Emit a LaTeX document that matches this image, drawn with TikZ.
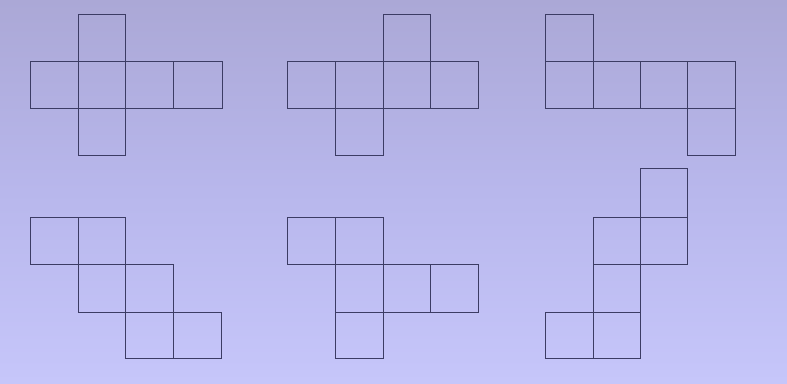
\documentclass[tikz,border=0pt]{standalone}
\begin{document}
\definecolor{bgtop}{RGB}{171,168,214}
\definecolor{bgmid}{RGB}{184,183,236}
\definecolor{bgbot}{RGB}{198,198,250}
\definecolor{edge}{RGB}{60,60,100}
\begin{tikzpicture}[x=1pt,y=-1pt,
  face/.style={draw=edge,line width=0.95pt,line join=miter}]
\useasboundingbox (0,0) rectangle (787,383);
\shade[top color=bgtop,bottom color=bgbot,middle color=bgmid] (0,0) rectangle (787,383);
\newcommand{\sqr}[4]{\draw[face] (#1,#2) rectangle (#3,#4);}
% figure 1
\sqr{78}{14}{125}{61}
\sqr{30}{61}{78}{108}\sqr{78}{61}{125}{108}\sqr{125}{61}{173}{108}\sqr{173}{61}{222}{108}
\sqr{78}{108}{125}{155}
% figure 2
\sqr{383}{14}{430}{61}
\sqr{287}{61}{335}{108}\sqr{335}{61}{383}{108}\sqr{383}{61}{430}{108}\sqr{430}{61}{478}{108}
\sqr{335}{108}{383}{155}
% figure 3
\sqr{545}{14}{593}{61}
\sqr{545}{61}{593}{108}\sqr{593}{61}{640}{108}\sqr{640}{61}{687}{108}\sqr{687}{61}{735}{108}
\sqr{687}{108}{735}{155}
% figure 4
\sqr{30}{217}{78}{264}\sqr{78}{217}{125}{264}
\sqr{78}{264}{125}{312}\sqr{125}{264}{173}{312}
\sqr{125}{312}{173}{358}\sqr{173}{312}{221}{358}
% figure 5
\sqr{287}{217}{335}{264}\sqr{335}{217}{383}{264}
\sqr{335}{264}{383}{312}\sqr{383}{264}{430}{312}\sqr{430}{264}{478}{312}
\sqr{335}{312}{383}{358}
% figure 6
\sqr{640}{168}{687}{217}
\sqr{593}{217}{640}{264}\sqr{640}{217}{687}{264}
\sqr{593}{264}{640}{312}
\sqr{545}{312}{593}{358}\sqr{593}{312}{640}{358}
\end{tikzpicture}
\end{document}
